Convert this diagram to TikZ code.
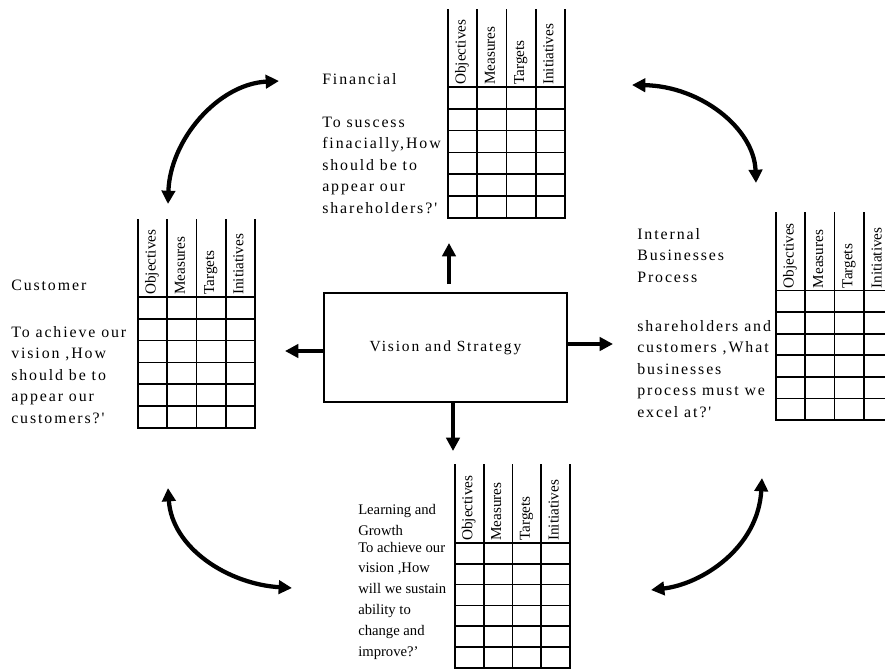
\documentclass[tikz,border=0pt]{standalone}
\usepackage{fontspec}
\setmainfont{Liberation Serif}
\newfontfamily\spacedserif{Liberation Serif}[LetterSpace=12]
\usetikzlibrary{arrows.meta}

\tikzset{
  gridline/.style={line width=1.3pt, line cap=rect},
  colhead/.style={rotate=90, anchor=mid west, inner sep=0pt,
    font=\fontsize{11.4pt}{13pt}\selectfont},
  % multi-line nodes are placed by the baseline of their last line
  blocktext/.style={anchor=base west, align=left, inner sep=0pt,
    font=\spacedserif\fontsize{11.9pt}{16.1pt}\selectfont},
  narrowtext/.style={blocktext, font=\fontsize{11pt}{15.6pt}\selectfont},
  hub/.style={draw, line width=1.5pt, minimum width=182.25pt,
    minimum height=81.75pt, inner sep=0pt,
    font=\spacedserif\fontsize{11.6pt}{14pt}\selectfont},
  stem/.style={line width=3pt, -{Triangle[length=10pt,width=10pt]}},
  swing/.style={line width=3.2pt,
    {Triangle[length=10pt,width=10pt]}-{Triangle[length=10pt,width=10pt]}},
}

% scorecard grid: name, left x, top y, header bottom y, row height, column width
\newcommand\scoregrid[6]{%
  \foreach \i in {0,...,4}
    \draw[gridline] ({#2+\i*#6},#3) -- ({#2+\i*#6},{#4+6*#5});
  \foreach \j in {0,...,6}
    \draw[gridline] (#2,{#4+\j*#5}) -- ({#2+4*#6},{#4+\j*#5});
  \foreach \t [count=\k] in {Objectives,Measures,Targets,Initiatives}
    \node[colhead] (#1-\k) at ({#2+(\k-0.5)*#6},{#4-2}) {\t};
}

\begin{document}
\begin{tikzpicture}[x=0.75pt, y=-0.75pt]
  \useasboundingbox (0,0) rectangle (885,671);
  \fill[white] (0,0) rectangle (885,671);
  \clip (0,0) rectangle (885,671);

  % the four scorecard grids
  \scoregrid{fin}{448}{10}{87}{21.8}{29.25}
  \scoregrid{cus}{138}{220}{297}{21.8}{29.25}
  \scoregrid{int}{776}{213}{290.5}{21.6}{29.3}
  \scoregrid{lrn}{455}{465}{543}{20.8}{28.75}

  % perspective texts
  \node[blocktext] (finTitle) at (322,84) {Financial};
  \node[blocktext] (finBody) at (322,213)
    {To suscess\\finacially,How\\should be to\\appear our\\shareholders?'};

  \node[blocktext] (cusTitle) at (11,290) {Customer};
  \node[blocktext] (cusBody) at (11,423)
    {To achieve our\\vision ,How\\should be to\\appear our\\customers?'};

  \node[blocktext] (intTitle) at (637,282) {Internal\\Businesses\\Process};
  \node[blocktext] (intBody) at (637,417)
    {shareholders and\\customers ,What\\businesses\\process must we\\excel at?'};

  \node[narrowtext] (lrnTitle) at (358,535) {Learning and\\Growth};
  \node[narrowtext] (lrnBody) at (358,656)
    {To achieve our\\vision ,How\\will we sustain\\ability to\\change and\\improve?'};

  % central box
  \node[hub] (vs) at (445.5,347.5) {Vision and Strategy};

  % straight arrows out of the box
  \coordinate (upTail) at (449,284);
  \coordinate (upTip) at (449,243);
  \coordinate (downTip) at (453,451);
  \coordinate (leftTip) at (285,351);
  \coordinate (rightTip) at (613,344);
  \draw[stem] (upTail) -- (upTip);
  \draw[stem] (downTip |- vs.south) -- (downTip);
  \draw[stem] (leftTip -| vs.west) -- (leftTip);
  \draw[stem] (rightTip -| vs.east) -- (rightTip);

  % curved two-way arrows between neighbouring perspectives
  \coordinate (tlA) at (168,204);
  \coordinate (tlB) at (279,81);
  \coordinate (trA) at (632,85);
  \coordinate (trB) at (756,183);
  \coordinate (blA) at (168,488);
  \coordinate (blB) at (292,588);
  \coordinate (brA) at (762,478);
  \coordinate (brB) at (651,590);
  \draw[swing] (tlA) .. controls (170,140) and (218,84) .. (tlB);
  \draw[swing] (trA) .. controls (700,86) and (754,128) .. (trB);
  \draw[swing] (blA) .. controls (172,548) and (228,584) .. (blB);
  \draw[swing] (brA) .. controls (758,548) and (702,584) .. (brB);
\end{tikzpicture}
\end{document}
